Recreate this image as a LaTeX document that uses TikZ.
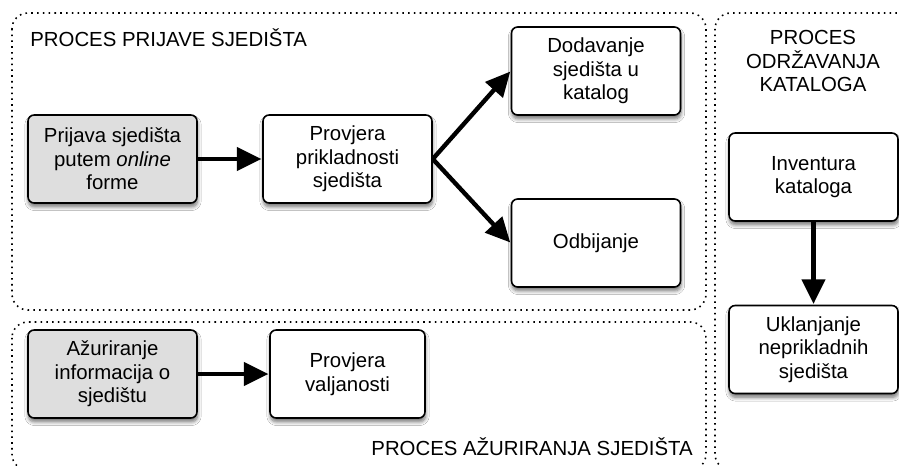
\documentclass[tikz,border=0pt]{standalone}
\usepackage{fontspec}
\setmainfont{Liberation Sans}
\usepackage{tikz}
\usetikzlibrary{arrows.meta, shadows.blur}

\begin{document}
\begin{tikzpicture}[x=0.02cm, y=-0.02cm,
  font=\fontsize{11.6}{13.4}\selectfont,
  procbox/.style={draw, line width=0.9pt, rounded corners=3.5pt, align=center,
    minimum width=3.38cm, minimum height=1.76cm, inner sep=2pt, fill=white,
    blur shadow={shadow xshift=0.3pt, shadow yshift=-2.2pt, shadow blur steps=6, shadow opacity=55}},
  startbox/.style={procbox, fill=black!13},
  group/.style={line width=0.9pt, dash pattern=on 0.9pt off 2.4pt, rounded corners=9pt},
  flow/.style={line width=2.5pt, -{Triangle[length=14pt, width=13pt]}, shorten >=0.4pt}
]
\clip (0,0) rectangle (899,466);
\fill[white] (0,0) rectangle (899,466);

% grupe procesa
\draw[group] (12,13) rectangle (706,310);
\draw[group] (12,322) rectangle (706,470);
\draw[group] (715,13) rectangle (915,470);

\node[anchor=west, inner sep=0pt] (tprijava) at (30,38) {PROCES PRIJAVE SJEDIŠTA};
\node[align=center] (todrzavanje) at (813,61) {PROCES\\ODRŽAVANJA\\KATALOGA};
\node[anchor=east, inner sep=0pt] (tazuriranje) at (693,447) {PROCES AŽURIRANJA SJEDIŠTA};

% prijava
\node[startbox] (prijava) at (112.5,159) {Prijava sjedišta\\putem \textit{online}\\forme};
\node[procbox] (prikladnost) at (347.5,159) {Provjera\\prikladnosti\\sjedišta};
\node[procbox] (dodavanje) at (596,71) {Dodavanje\\sjedišta u\\katalog};
\node[procbox] (odbijanje) at (596,243) {Odbijanje};

% odrzavanje
\node[procbox] (inventura) at (813.5,177) {Inventura\\kataloga};
\node[procbox] (uklanjanje) at (813.5,349.5) {Uklanjanje\\neprikladnih\\sjedišta};

% azuriranje
\node[startbox] (azuriranje) at (112.5,374) {Ažuriranje\\informacija o\\sjedištu};
\node[procbox, minimum width=3.1cm] (valjanost) at (347.5,374) {Provjera\\valjanosti};

\draw[flow] (prijava) -- (prikladnost);
\draw[flow] (prikladnost.east) -- (dodavanje.west);
\draw[flow] (prikladnost.east) -- (odbijanje.west);
\draw[flow] (inventura) -- (uklanjanje);
\draw[flow] (azuriranje) -- (valjanost);
\end{tikzpicture}
\end{document}
